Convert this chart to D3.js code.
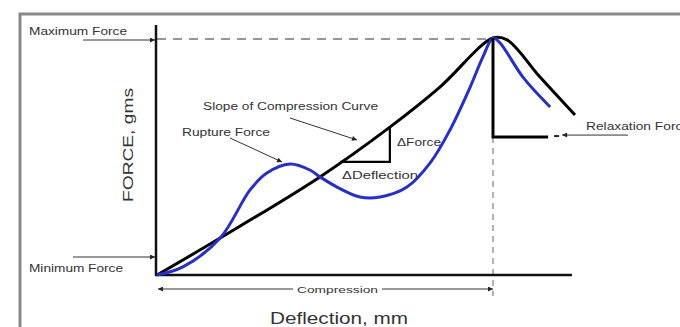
<!DOCTYPE html>
<html><head><meta charset="utf-8">
<script src="https://cdn.jsdelivr.net/npm/d3@7"></script>
<style>body{margin:0;background:#fff}svg{display:block}text{font-family:"Liberation Sans",Arial,sans-serif;fill:#333}</style>
</head><body><svg id="c" width="680" height="327"></svg>
<script>
// Data (deflection in arbitrary units, force in arbitrary units; peak normalized to 10)
const ruptureX = [0,0.77,1.88,2.77,3.27,3.96,4.55,4.85,5.36,6.04,6.64,7.44,8.13,8.72,9.32,9.70,10,10.21,10.89,11.70];
const ruptureY = [0,0.34,1.56,3.59,4.30,4.68,4.43,4.14,3.71,3.29,3.29,3.71,4.73,6.12,7.93,9.20,10,9.79,8.35,7.09];
const idealX = [0,1.88,4.85,6.93,8.42,10,10.42,11.40,12.44];
const idealY = [0,1.56,4.14,6.24,7.93,10,9.92,8.35,6.75];
const peak = {x:10, y:10};
const relaxLevel = 5.82, relaxEnd = 11.64;
const triangle = {x0:5.45, x1:6.93, y0:4.77, y1:6.24};
const labels = {max:"Maximum Force", min:"Minimum Force", slope:"Slope of Compression Curve",
  rupture:"Rupture Force", dF:"\u0394Force", dD:"\u0394Deflection", comp:"Compression",
  xTitle:"Deflection, mm", yTitle:"FORCE, gms", relax:"Relaxation Force"};

const svg = d3.select("#c");
const x = d3.scaleLinear().domain([0,10]).range([157,493]);
const y = d3.scaleLinear().domain([0,10]).range([275,38]);

const defs = svg.append("defs");
defs.append("marker").attr("id","ah").attr("viewBox","0 0 10 10").attr("refX",10).attr("refY",5)
  .attr("markerWidth",7).attr("markerHeight",5).attr("orient","auto-start-reverse").attr("markerUnits","userSpaceOnUse")
  .append("path").attr("d","M0,0L10,5L0,10z").attr("fill","#222");

// frame
svg.append("rect").attr("x",20).attr("y",14).attr("width",680).attr("height",340)
  .attr("fill","none").attr("stroke","#888").attr("stroke-width",3);

// dashed guides
svg.append("line").attr("x1",x(0)).attr("x2",x(peak.x)-4).attr("y1",y(peak.y)+1).attr("y2",y(peak.y)+1)
  .attr("stroke","#777").attr("stroke-width",1.5).attr("stroke-dasharray","9,7");
svg.append("line").attr("x1",x(peak.x)).attr("x2",x(peak.x)).attr("y1",y(relaxLevel)).attr("y2",296)
  .attr("stroke","#888").attr("stroke-width",1.3).attr("stroke-dasharray","6,5");

// axes
svg.append("line").attr("x1",x(0)-1).attr("x2",x(0)-1).attr("y1",y(10.55)).attr("y2",y(0)+1)
  .attr("stroke","#111").attr("stroke-width",2.5);
svg.append("line").attr("x1",x(0)-2).attr("x2",x(12.35)).attr("y1",y(0)).attr("y2",y(0))
  .attr("stroke","#111").attr("stroke-width",2.5);

const line = d3.line().x(d=>x(d[0])).y(d=>y(d[1])).curve(d3.curveCatmullRom.alpha(0.5));
svg.append("path").attr("d",line(idealX.map((v,i)=>[v,idealY[i]])))
  .attr("fill","none").attr("stroke","#000").attr("stroke-width",3);
svg.append("path").attr("d",line(ruptureX.map((v,i)=>[v,ruptureY[i]])))
  .attr("fill","none").attr("stroke","#2530c8").attr("stroke-width",3);

// relaxation
svg.append("path").attr("d",`M${x(peak.x)},${y(peak.y)}V${y(relaxLevel)}H${x(relaxEnd)}`)
  .attr("fill","none").attr("stroke","#000").attr("stroke-width",3);
svg.append("line").attr("x1",x(relaxEnd)+6).attr("x2",x(relaxEnd)+11).attr("y1",y(relaxLevel)-1).attr("y2",y(relaxLevel)-1)
  .attr("stroke","#222").attr("stroke-width",2);
svg.append("line").attr("x1",628).attr("x2",x(relaxEnd)+14).attr("y1",y(relaxLevel)-2).attr("y2",y(relaxLevel)-2)
  .attr("stroke","#333").attr("stroke-width",1).attr("marker-end","url(#ah)");

// triangle
svg.append("path").attr("d",`M${x(triangle.x0)},${y(triangle.y0)}H${x(triangle.x1)}V${y(triangle.y1)}`)
  .attr("fill","none").attr("stroke","#000").attr("stroke-width",2.2);

// arrows
function arrow(x1,y1,x2,y2){svg.append("line").attr("x1",x1).attr("y1",y1).attr("x2",x2).attr("y2",y2)
  .attr("stroke","#333").attr("stroke-width",1).attr("marker-end","url(#ah)");}
arrow(83,40,x(0)-2,40);
arrow(73,257,x(0)-2,257);
arrow(290,118,357,140);
arrow(230,138,282,162);
arrow(293,289,x(0)+1,289);
arrow(382,289,x(peak.x),289);

// text
function txt(s,x0,yc,len,fs,extra){const t=svg.append("text").attr("x",x0).attr("y",yc).attr("dy","0.35em")
  .attr("font-size",fs).attr("textLength",len).attr("lengthAdjust","spacingAndGlyphs").text(s);return t;}
txt(labels.max,29,31,98,10);
txt(labels.min,29,268,94,10);
txt(labels.slope,203,106,175,10);
txt(labels.rupture,182,132,88,10);
txt(labels.dF,397,142,44,10);
txt(labels.dD,342,175,76,10);
txt(labels.comp,297,290,81,9);
txt(labels.xTitle,270,318,138,16);
txt(labels.relax,586,126,104,10);
svg.append("text").attr("transform","translate(128,145) rotate(-90)").attr("text-anchor","middle").attr("dy","0.35em")
  .attr("font-size",15).attr("textLength",114).attr("lengthAdjust","spacingAndGlyphs").text(labels.yTitle);
</script></body></html>
